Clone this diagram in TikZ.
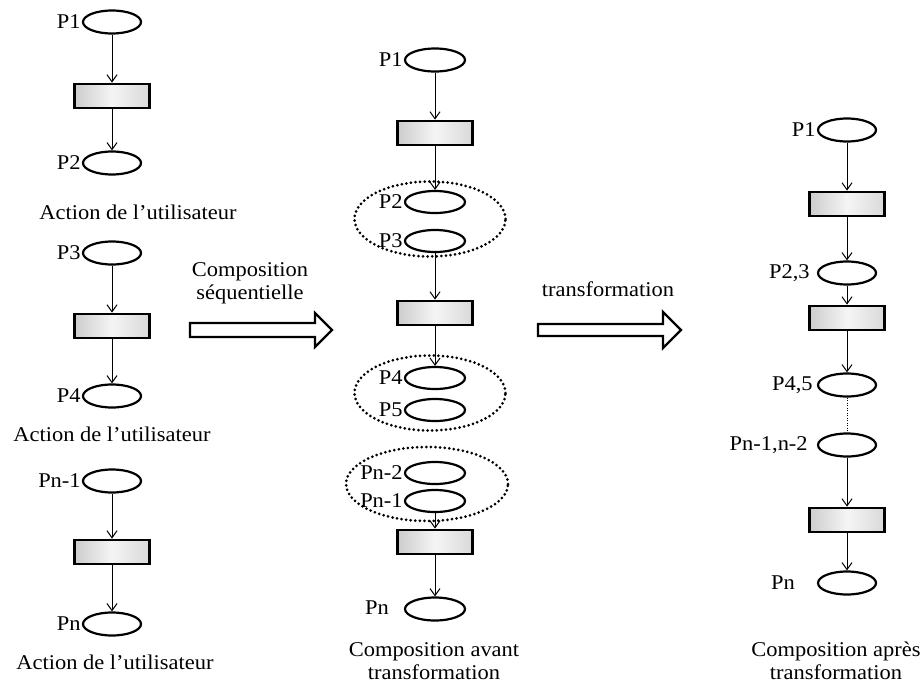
\documentclass[tikz,border=0pt]{standalone}
\usepackage{fontspec}
\setmainfont{Liberation Serif}[FakeStretch=1.07]
\usetikzlibrary{shapes.geometric,arrows.meta}
\begin{document}
\begin{tikzpicture}[x=1pt,y=-1pt,
 font=\fontsize{21}{23}\selectfont,
 place/.style={ellipse,draw,line width=2.2pt,minimum width=58pt,minimum height=23pt,inner sep=0pt},
 trans/.style={rectangle,draw,line width=2.8pt,minimum width=75pt,minimum height=24pt,inner sep=0pt,left color=gray!40,right color=gray!30,middle color=gray!8},
 lbl/.style={anchor=east,inner sep=1pt},
 txt/.style={align=center,inner sep=0pt},
 arc/.style={-{Straight Barb[length=7pt,width=10pt]},line width=1pt},
 grp/.style={ellipse,draw,line width=3pt,dash pattern=on 0pt off 4.6pt,line cap=round,inner sep=0pt},
 bigarrow/.style={draw,line width=2.4pt,fill=white,line join=miter}
]
\useasboundingbox (0,0) rectangle (921,691);

% ---------- left column ----------
\node[place] (a1) at (112,22) {};
\node[trans] (ar1) at (112,96) {};
\node[place] (a2) at (112,163) {};
\node[lbl] at (a1.west) {P1};
\node[lbl] at (a2.west) {P2};
\node[txt] (ac1) at (138,212) {Action de l’utilisateur};
\draw[arc] (a1) -- (ar1);
\draw[arc] (ar1) -- (a2);

\node[place] (a3) at (112,253) {};
\node[trans] (ar2) at (112,326) {};
\node[place] (a4) at (112,396) {};
\node[lbl] at (a3.west) {P3};
\node[lbl] at (a4.west) {P4};
\node[txt] (ac2) at (112,434) {Action de l’utilisateur};
\draw[arc] (a3) -- (ar2);
\draw[arc] (ar2) -- (a4);

\node[place] (a5) at (112,481) {};
\node[trans] (ar3) at (112,552) {};
\node[place] (a6) at (112,624) {};
\node[lbl] at (a5.west) {Pn-1};
\node[lbl] at (a6.west) {Pn};
\node[txt] (ac3) at (115,662) {Action de l’utilisateur};
\draw[arc] (a5) -- (ar3);
\draw[arc] (ar3) -- (a6);

% ---------- first big arrow ----------
\draw[bigarrow] (190,323) -- (315,323) -- (315,313) -- (332,330) -- (315,347) -- (315,337) -- (190,337) -- cycle;
\node[txt] (t1) at (250,283) {Composition\\séquentielle};

% ---------- middle column ----------
\node[grp,minimum width=151pt,minimum height=75pt] (g1) at (430,219) {};
\node[grp,minimum width=151pt,minimum height=75pt] (g2) at (430,393) {};
\node[grp,minimum width=162pt,minimum height=74pt] (g3) at (427,484) {};

\node[place,minimum width=60pt] (b1) at (435,60) {};
\node[trans] (br1) at (435,133) {};
\node[place,minimum width=60pt,minimum height=22pt] (b2) at (435,202) {};
\node[place,minimum width=60pt,minimum height=22pt] (b3) at (435,241) {};
\node[trans] (br2) at (435,313) {};
\node[place,minimum width=60pt,minimum height=22pt] (b4) at (435,378) {};
\node[place,minimum width=60pt,minimum height=22pt] (b5) at (435,410) {};
\node[place,minimum width=60pt,minimum height=22pt] (b6) at (435,473) {};
\node[place,minimum width=60pt,minimum height=22pt] (b7) at (435,501) {};
\node[trans] (br3) at (435,542) {};
\node[place,minimum width=60pt] (b8) at (435,609) {};
\node[lbl] at (b1.west) {P1};
\node[lbl] at (b2.west) {P2};
\node[lbl] at (b3.west) {P3};
\node[lbl] at (b4.west) {P4};
\node[lbl] at (b5.west) {P5};
\node[lbl] at (b6.west) {Pn-2};
\node[lbl] at (b7.west) {Pn-1};
\node[txt] at (377,608) {Pn};
\draw[arc] (b1) -- (br1);
\draw[arc] (br1) -- (b2);
\draw[arc] (b3) -- (br2);
\draw[arc] (br2) -- (b4);
\draw[arc] (b7) -- (br3);
\draw[arc] (br3) -- (b8);
\node[txt] (cap1) at (434,661) {Composition avant\\transformation};

% ---------- second big arrow ----------
\draw[bigarrow] (538,324) -- (663,324) -- (663,312) -- (681,330) -- (663,348) -- (663,336) -- (538,336) -- cycle;
\node[txt] (t2) at (608,289) {transformation};

% ---------- right column ----------
\node[place] (c1) at (847,130) {};
\node[trans] (cr1) at (847,204) {};
\node[place] (c2) at (847,273) {};
\node[trans] (cr2) at (847,318) {};
\node[place] (c3) at (847,385) {};
\node[place] (c4) at (847,445) {};
\node[trans] (cr3) at (847,520) {};
\node[place] (c5) at (847,583) {};
\node[lbl] at (c1.west) {P1};
\node[lbl,inner sep=0pt,xshift=-7pt] at (c2.west) {P2,3};
\node[lbl,inner sep=0pt,xshift=-4pt] at (c3.west) {P4,5};
\node[lbl,inner sep=0pt,xshift=-9pt] at (c4.west) {Pn-1,n-2};
\node[txt] at (783,583) {Pn};
\draw[arc] (c1) -- (cr1);
\draw[arc] (cr1) -- (c2);
\draw[arc] (c2) -- (cr2);
\draw[arc] (cr2) -- (c3);
\draw[line width=0.8pt,dash pattern=on 1pt off 1.5pt] (c3) -- (c4);
\draw[arc] (c4) -- (cr3);
\draw[arc] (cr3) -- (c5);
\node[txt] (cap2) at (836,661) {Composition après\\transformation};
\end{tikzpicture}
\end{document}
